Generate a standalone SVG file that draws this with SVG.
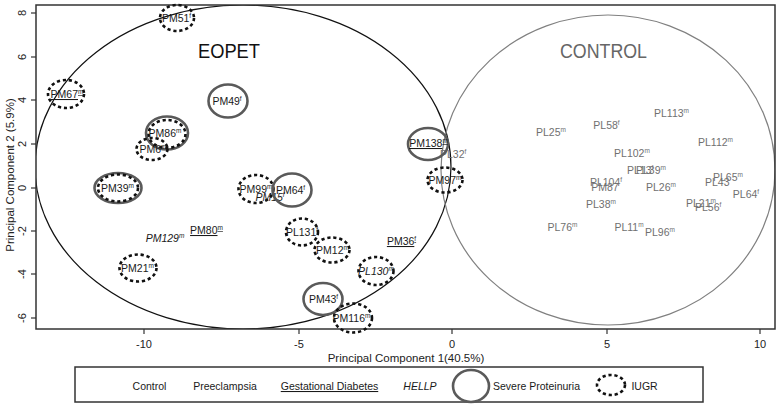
<svg xmlns="http://www.w3.org/2000/svg" width="780" height="407" viewBox="0 0 780 407">
<defs>
<clipPath id="plotclip"><rect x="36" y="5" width="739" height="324"/></clipPath>
<style>
text{font-family:"Liberation Sans",Arial,sans-serif}
.lbl{font-size:10.5px;text-anchor:middle;fill:#1a1a1a}
.ctl{fill:#707070}
.it{font-style:italic}
.ul{text-decoration:underline}
.s{font-size:6.5px}
.sp{stroke:#5a5a5a;stroke-width:2.6;fill:none}
.iu{stroke:#111;stroke-width:2.6;fill:none;stroke-dasharray:3.2 2.8}
.tick{stroke:#333;stroke-width:1.2}
.ax{font-size:11px;fill:#222;text-anchor:middle}
.ttl{font-size:11.5px;fill:#222;text-anchor:middle}
.leg{font-size:10.5px;text-anchor:middle;fill:#1a1a1a}
.big{font-size:21px;text-anchor:middle}
</style>
</defs>
<rect width="780" height="407" fill="#fff"/>

<g id="groups" clip-path="url(#plotclip)">
<ellipse cx="243" cy="167" rx="208" ry="162" fill="none" stroke="#111" stroke-width="1.2"/>
<ellipse cx="608" cy="170" rx="167" ry="155" fill="none" stroke="#808080" stroke-width="1.2"/>
</g>
<text class="big" x="229" y="58" fill="#111" textLength="62" lengthAdjust="spacingAndGlyphs">EOPET</text>
<text class="big" x="603.5" y="58" fill="#666" textLength="87" lengthAdjust="spacingAndGlyphs">CONTROL</text>

<g id="frame">
<rect x="36" y="5" width="739" height="324" fill="none" stroke="#333" stroke-width="1.5"/>
<g class="tick">
<line x1="31" y1="13" x2="36" y2="13"/><line x1="31" y1="57" x2="36" y2="57"/>
<line x1="31" y1="100" x2="36" y2="100"/><line x1="31" y1="144" x2="36" y2="144"/>
<line x1="31" y1="188" x2="36" y2="188"/><line x1="31" y1="231" x2="36" y2="231"/>
<line x1="31" y1="274" x2="36" y2="274"/><line x1="31" y1="318" x2="36" y2="318"/>
<line x1="144" y1="329" x2="144" y2="334"/><line x1="299" y1="329" x2="299" y2="334"/>
<line x1="452" y1="329" x2="452" y2="334"/><line x1="607" y1="329" x2="607" y2="334"/>
<line x1="760" y1="329" x2="760" y2="334"/>
</g>
<text class="ax" transform="translate(26,13) rotate(-90)">8</text>
<text class="ax" transform="translate(26,57) rotate(-90)">6</text>
<text class="ax" transform="translate(26,100) rotate(-90)">4</text>
<text class="ax" transform="translate(26,144) rotate(-90)">2</text>
<text class="ax" transform="translate(26,188) rotate(-90)">0</text>
<text class="ax" transform="translate(26,231) rotate(-90)">-2</text>
<text class="ax" transform="translate(26,274) rotate(-90)">-4</text>
<text class="ax" transform="translate(26,318) rotate(-90)">-6</text>
<text class="ax" x="144" y="348">-10</text>
<text class="ax" x="299" y="348">-5</text>
<text class="ax" x="452" y="348">0</text>
<text class="ax" x="607" y="348">5</text>
<text class="ax" x="760" y="348">10</text>
<text class="ttl" x="406" y="362">Principal Component 1(40.5%)</text>
<text class="ttl" transform="translate(14,175) rotate(-90)">Principal Component 2 (5.9%)</text>
</g>

<g id="control-points">
<text class="lbl ctl" x="551" y="136">PL25<tspan class="s" dy="-4">m</tspan></text>
<text class="lbl ctl" x="562.5" y="231">PL76<tspan class="s" dy="-4">m</tspan></text>
<text class="lbl ctl" x="671.5" y="117">PL113<tspan class="s" dy="-4">m</tspan></text>
<text class="lbl ctl" x="606.5" y="129">PL58<tspan class="s" dy="-4">f</tspan></text>
<text class="lbl ctl" x="715.5" y="146">PL112<tspan class="s" dy="-4">m</tspan></text>
<text class="lbl ctl" x="632" y="157">PL102<tspan class="s" dy="-4">m</tspan></text>
<text class="lbl ctl" x="627" y="174" text-anchor="start" style="text-anchor:start">PL13<tspan class="s" dy="-4">f</tspan></text>
<text class="lbl ctl" x="636" y="174" style="text-anchor:start">PL39<tspan class="s" dy="-4">m</tspan></text>
<text class="lbl ctl" x="606" y="186">PL104<tspan class="s" dy="-4">f</tspan></text>
<text class="lbl ctl" x="605" y="191">PM87</text>
<text class="lbl ctl" x="661" y="191">PL26<tspan class="s" dy="-4">m</tspan></text>
<text class="lbl ctl" x="713" y="181" style="text-anchor:start">PL65<tspan class="s" dy="-4">m</tspan></text>
<text class="lbl ctl" x="705" y="186" style="text-anchor:start">PL43</text>
<text class="lbl ctl" x="746" y="198">PL64<tspan class="s" dy="-4">f</tspan></text>
<text class="lbl ctl" x="686" y="207" style="text-anchor:start">PL21<tspan class="s" dy="-4">m</tspan></text>
<text class="lbl ctl" x="695" y="211" style="text-anchor:start">PL56<tspan class="s" dy="-4">f</tspan></text>
<text class="lbl ctl" x="601" y="208">PL38<tspan class="s" dy="-4">m</tspan></text>
<text class="lbl ctl" x="629" y="231">PL11<tspan class="s" dy="-4">m</tspan></text>
<text class="lbl ctl" x="660" y="236">PL96<tspan class="s" dy="-4">m</tspan></text>
<text class="lbl ctl" x="440" y="158" style="text-anchor:start">PL32<tspan class="s" dy="-4">f</tspan></text>
</g>

<g id="PM51"><ellipse class="iu" cx="177" cy="18" rx="17" ry="13"/><text class="lbl" x="176.5" y="22">PM51<tspan class="s" dy="-4">f</tspan></text></g>
<g id="PM67"><ellipse class="iu" cx="66" cy="94" rx="18" ry="14"/><text class="lbl ul" x="67" y="98">PM67<tspan class="s" dy="-4">m</tspan></text></g>
<g id="PM49"><ellipse class="sp" cx="228" cy="101" rx="19.5" ry="16.5"/><text class="lbl" x="227" y="105">PM49<tspan class="s" dy="-4">f</tspan></text></g>
<g id="PM86"><ellipse class="sp" cx="167" cy="133" rx="21" ry="16.5"/><ellipse class="iu" cx="167" cy="134" rx="18.5" ry="14"/><text class="lbl" x="165" y="137">PM86<tspan class="s" dy="-4">m</tspan></text></g>
<g id="PM6"><ellipse class="iu" cx="152" cy="149" rx="15.5" ry="11"/><text class="lbl" x="153" y="153">PM6<tspan class="s" dy="-4">m</tspan></text></g>
<g id="PM39"><ellipse class="sp" cx="118" cy="188" rx="23.5" ry="15"/><ellipse class="iu" cx="118" cy="188" rx="20" ry="13.5"/><text class="lbl" x="117.5" y="192">PM39<tspan class="s" dy="-4">m</tspan></text></g>
<g id="PM129"><text class="lbl it" x="165" y="242">PM129<tspan class="s" dy="-4">m</tspan></text></g>
<g id="PM80"><text class="lbl ul" x="206.5" y="234" fill="#333">PM80<tspan class="s" dy="-4">m</tspan></text></g>
<g id="PM21"><ellipse class="iu" cx="138" cy="268" rx="18.5" ry="13.5"/><text class="lbl" x="137.5" y="272">PM21<tspan class="s" dy="-4">m</tspan></text></g>
<g id="PM99"><ellipse class="iu" cx="256" cy="189" rx="17.5" ry="14"/><text class="lbl" x="256" y="193">PM99<tspan class="s" dy="-4">m</tspan></text></g>
<g id="PM15"><text class="lbl it" x="270" y="201">PM15<tspan class="s" dy="-4">f</tspan></text></g>
<g id="PM64"><ellipse class="sp" cx="292" cy="190" rx="19.5" ry="16.5"/><text class="lbl" x="290.5" y="194">PM64<tspan class="s" dy="-4">f</tspan></text></g>
<g id="PM138"><ellipse class="sp" cx="428" cy="144" rx="20" ry="16"/><text class="lbl ul" x="428.5" y="147">PM138<tspan class="s" dy="-4">m</tspan></text></g>
<g id="PM97"><ellipse class="iu" cx="445" cy="180" rx="17.5" ry="12.5"/><text class="lbl" x="445" y="184">PM97<tspan class="s" dy="-4">m</tspan></text></g>
<g id="PL131"><ellipse class="iu" cx="302" cy="232" rx="16" ry="13.5"/><text class="lbl" x="302" y="236">PL131<tspan class="s" dy="-4">f</tspan></text></g>
<g id="PM12"><ellipse class="iu" cx="332" cy="250" rx="17.5" ry="12.5"/><text class="lbl" x="332.5" y="254">PM12<tspan class="s" dy="-4">m</tspan></text></g>
<g id="PM36"><text class="lbl ul" x="401.5" y="245" fill="#333">PM36<tspan class="s" dy="-4">f</tspan></text></g>
<g id="PL130"><ellipse class="iu" cx="376" cy="271" rx="17.5" ry="14"/><text class="lbl it" x="376" y="275">PL130<tspan class="s" dy="-4">m</tspan></text></g>
<g id="PM43"><ellipse class="sp" cx="323" cy="299" rx="19.5" ry="16"/><text class="lbl" x="323.5" y="303">PM43<tspan class="s" dy="-4">f</tspan></text></g>
<g id="PM116"><ellipse class="iu" cx="353" cy="318" rx="19" ry="14.5"/><text class="lbl" x="351.5" y="322">PM116<tspan class="s" dy="-4">m</tspan></text></g>

<g id="legend">
<rect x="75" y="367" width="628" height="35" fill="#fff" stroke="#333" stroke-width="1.5"/>
<text class="leg" x="149.5" y="390" fill="#707070">Control</text>
<text class="leg" x="225" y="390">Preeclampsia</text>
<text class="leg ul" x="329.5" y="390" fill="#333">Gestational Diabetes</text>
<text class="leg it" x="420" y="390">HELLP</text>
<ellipse class="sp" cx="471" cy="386" rx="18" ry="16"/>
<text class="leg" x="536.5" y="390">Severe Proteinuria</text>
<ellipse class="iu" cx="611" cy="385" rx="14" ry="10"/>
<text class="leg" x="644.5" y="390">IUGR</text>
</g>
</svg>
